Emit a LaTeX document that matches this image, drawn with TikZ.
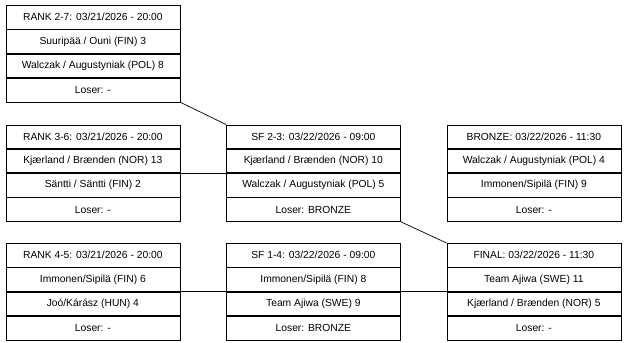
\documentclass[tikz,border=0pt]{standalone}
\usepackage{fontspec}
\setmainfont{Liberation Sans}
\tikzset{
  cell/.style={draw=black, line width=0.7pt, rectangle, minimum width=174pt, minimum height=23.6pt,
    inner sep=0pt, anchor=north west, font=\fontsize{10.3}{12}\selectfont, text=black},
  link/.style={draw=black, line width=0.7pt}
}
\newcommand{\matchbox}[7]{%
  \node[cell] (#1-h) at (#2,#3) {#4};
  \node[cell] (#1-a) at (#1-h.south west) {#5};
  \node[cell] (#1-b) at (#1-a.south west) {#6};
  \node[cell] (#1-l) at (#1-b.south west) {#7};
}
\begin{document}
\begin{tikzpicture}[x=1pt,y=-1pt]
\useasboundingbox (0,0) rectangle (625,343);
\matchbox{r27}{5.5}{5}{RANK 2-7: 03/21/2026 - 20:00}{Suuripää / Ouni (FIN) 3}{Walczak / Augustyniak (POL) 8}{Loser: -}
\matchbox{r36}{5.5}{124.5}{RANK 3-6: 03/21/2026 - 20:00}{Kjærland / Brænden (NOR) 13}{Säntti / Säntti (FIN) 2}{Loser: -}
\matchbox{r45}{5.5}{243}{RANK 4-5: 03/21/2026 - 20:00}{Immonen/Sipilä (FIN) 6}{Joó/Kárász (HUN) 4}{Loser: -}
\matchbox{sf23}{226}{124.5}{SF 2-3: 03/22/2026 - 09:00}{Kjærland / Brænden (NOR) 10}{Walczak / Augustyniak (POL) 5}{Loser: BRONZE}
\matchbox{sf14}{226}{243}{SF 1-4: 03/22/2026 - 09:00}{Immonen/Sipilä (FIN) 8}{Team Ajiwa (SWE) 9}{Loser: BRONZE}
\matchbox{br}{446.5}{124.5}{BRONZE: 03/22/2026 - 11:30}{Walczak / Augustyniak (POL) 4}{Immonen/Sipilä (FIN) 9}{Loser: -}
\matchbox{fin}{446.5}{243}{FINAL: 03/22/2026 - 11:30}{Team Ajiwa (SWE) 11}{Kjærland / Brænden (NOR) 5}{Loser: -}
\draw[link] (r27-l.south east) -- (sf23-h.north west);
\draw[link] (r36-b.north east) -- (sf23-b.north west);
\draw[link] (r45-b.north east) -- (sf14-b.north west);
\draw[link] (sf14-b.north east) -- (fin-b.north west);
\draw[link] (sf23-l.south east) -- (fin-h.north west);
\end{tikzpicture}
\end{document}
